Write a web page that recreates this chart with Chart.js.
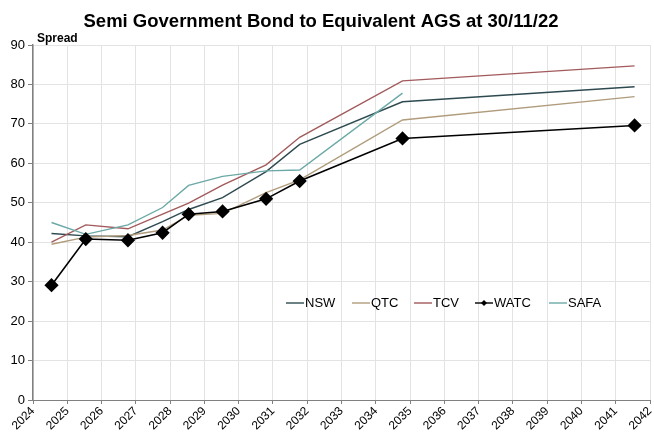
<!DOCTYPE html>
<html>
<head>
<meta charset="utf-8">
<script src="https://cdn.jsdelivr.net/npm/chart.js@4/dist/chart.umd.min.js"></script>
<style>
html,body{margin:0;padding:0;background:#fff;}
#wrap{width:654px;height:437px;position:relative;}
</style>
</head>
<body>
<div id="wrap"><canvas id="c" width="654" height="437"></canvas></div>
<script>
const chartTitle = "Semi Government Bond to Equivalent AGS at 30/11/22";
const yAxisTitle = "Spread";
const maturities = [2024.54, 2025.54, 2026.77, 2027.78, 2028.54, 2029.53, 2030.80, 2031.78, 2034.78, 2041.55];
const nsw  = [42.2, 41.6, 41.4, 45.2, 48.3, 51.3, 57.9, 64.8, 75.6, 79.4];
const qtc  = [39.5, 41.3, 41.7, 43.1, 46.8, 47.3, 52.6, 55.8, 71.0, 76.9];
const tcv  = [40.0, 44.4, 43.4, 47.1, 49.9, 54.5, 59.6, 66.6, 80.9, 84.7];
const watc = [29.1, 40.8, 40.5, 42.4, 47.1, 47.8, 51.0, 55.5, 66.3, 69.6];
const safa = [45.0, 42.0, 44.4, 48.8, 54.4, 56.7, 58.1, 58.3, 77.8, null];
const seriesNames = ["NSW", "QTC", "TCV", "WATC", "SAFA"];
const xMin = 2024, xMax = 2042, yMin = 0, yMax = 90;

const colors = ["#2e4a50", "#b09c7c", "#a25a5c", "#000000", "#6ba9a6"];
const allSeries = [nsw, qtc, tcv, watc, safa];

function pts(arr){ return maturities.map((x,i)=>({x:x,y:arr[i]})).filter(p=>p.y!==null); }

const datasets = allSeries.map((arr,i)=>({
  label: seriesNames[i],
  data: pts(arr),
  borderColor: colors[i],
  backgroundColor: colors[i],
  borderWidth: i===3 ? 1.6 : 1.4,
  pointStyle: 'rectRot',
  pointRadius: i===3 ? 6 : 0,
  pointHoverRadius: i===3 ? 6 : 0,
  tension: 0,
  clip: false,
  order: i===3 ? 0 : 5-i
}));

const FONT = "'Liberation Sans', Arial, sans-serif";

const overlay = {
  id: 'overlay',
  afterDraw(chart){
    const ctx = chart.ctx;
    ctx.save();
    ctx.fillStyle = '#000';
    ctx.font = "bold 18.5px " + FONT;
    ctx.textAlign = 'center';
    ctx.textBaseline = 'middle';
    ctx.fillText(chartTitle, 321, 22);
    ctx.font = "bold 12px " + FONT;
    ctx.textAlign = 'left';
    ctx.fillText(yAxisTitle, 37, 39);
    // legend
    const ly = 303;
    ctx.font = "13px " + FONT;
    ctx.textBaseline = 'middle';
    const starts = [286, 352, 414, 475, 549];
    seriesNames.forEach((n,i)=>{
      const x0 = starts[i];
      ctx.strokeStyle = colors[i];
      ctx.lineWidth = 1.4;
      ctx.beginPath(); ctx.moveTo(x0, ly); ctx.lineTo(x0+18, ly); ctx.stroke();
      if(i===3){
        ctx.fillStyle = '#000';
        ctx.beginPath();
        const cx = x0+9, r = 3;
        ctx.moveTo(cx, ly-r); ctx.lineTo(cx+r, ly); ctx.lineTo(cx, ly+r); ctx.lineTo(cx-r, ly); ctx.closePath(); ctx.fill();
      }
      ctx.fillStyle = '#000';
      ctx.fillText(n, x0+19, ly+0.5);
    });
    ctx.restore();
  }
};

new Chart(document.getElementById('c'), {
  type: 'line',
  data: { datasets },
  options: {
    responsive: false,
    animation: false,
    events: [],
    layout: { autoPadding: false, padding: { top: 45, right: 4, left: 0, bottom: 0 } },
    plugins: { legend: { display: false }, title: { display: false }, tooltip: { enabled: false } },
    scales: {
      x: {
        type: 'linear', min: xMin, max: xMax,
        afterFit(s){ s.height = 37; s.paddingRight = 0; s.paddingLeft = 0; },
        ticks: { stepSize: 1, autoSkip: false, minRotation: 45, maxRotation: 45, color: '#000',
          font: { family: FONT, size: 12 }, padding: 0,
          callback: v => String(v) },
        grid: { color: '#e3e3e3', tickColor: '#808080', tickLength: 4, lineWidth: 1 },
        border: { color: '#808080', width: 1 }
      },
      y: {
        min: yMin, max: yMax,
        afterFit(s){ s.width = 33; s.paddingTop = 0; s.paddingBottom = 0; },
        ticks: { stepSize: 10, color: '#000', font: { family: FONT, size: 13 }, padding: 3 },
        grid: { color: '#e3e3e3', tickColor: '#808080', tickLength: 5, lineWidth: 1 },
        border: { color: '#808080', width: 1.5 }
      }
    }
  },
  plugins: [overlay]
});
</script>
</body>
</html>
